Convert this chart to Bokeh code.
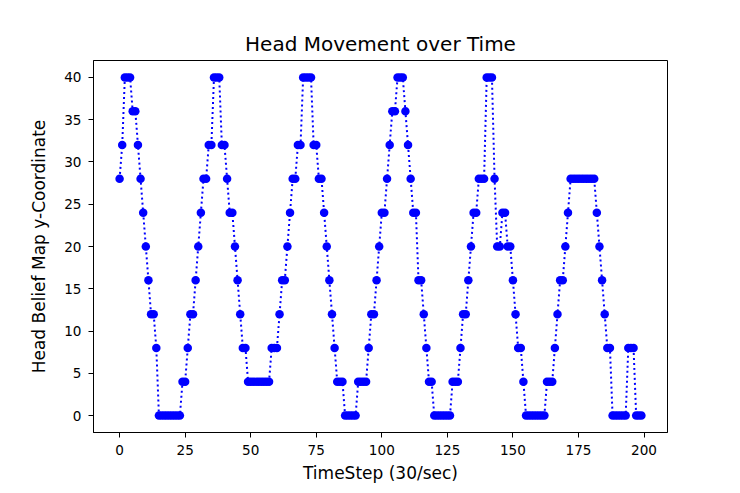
from bokeh.plotting import figure
from bokeh.models import Range1d, FixedTicker
from bokeh.embed import file_html
from bokeh.resources import INLINE

title_text = "Head Movement over Time"
x_label = "TimeStep (30/sec)"
y_label = "Head Belief Map y-Coordinate"

x_ticks = [0, 25, 50, 75, 100, 125, 150, 175, 200]
y_ticks = [0, 5, 10, 15, 20, 25, 30, 35, 40]

head_y = [
    28, 32, 40, 40, 40, 36, 36, 32, 28, 24,
    20, 16, 12, 12, 8, 0, 0, 0, 0, 0,
    0, 0, 0, 0, 4, 4, 8, 12, 12, 16,
    20, 24, 28, 28, 32, 32, 40, 40, 40, 32,
    32, 28, 24, 24, 20, 16, 12, 8, 8, 4,
    4, 4, 4, 4, 4, 4, 4, 4, 8, 8,
    8, 12, 16, 16, 20, 24, 28, 28, 32, 32,
    40, 40, 40, 40, 32, 32, 28, 28, 24, 20,
    16, 12, 8, 4, 4, 4, 0, 0, 0, 0,
    0, 4, 4, 4, 4, 8, 12, 12, 16, 20,
    24, 24, 28, 32, 36, 36, 40, 40, 40, 36,
    32, 28, 24, 24, 16, 16, 12, 8, 4, 4,
    0, 0, 0, 0, 0, 0, 0, 4, 4, 4,
    8, 12, 12, 16, 20, 24, 24, 28, 28, 28,
    40, 40, 40, 28, 20, 20, 24, 24, 20, 20,
    16, 12, 8, 8, 4, 0, 0, 0, 0, 0,
    0, 0, 0, 4, 4, 4, 8, 12, 16, 16,
    20, 24, 28, 28, 28, 28, 28, 28, 28, 28,
    28, 28, 24, 20, 16, 12, 8, 8, 0, 0,
    0, 0, 0, 0, 8, 8, 8, 0, 0, 0,
]
time_step = list(range(len(head_y)))

FONT = "DejaVu Sans"

p = figure(width=738, height=491, output_backend="svg", toolbar_location=None,
           x_range=Range1d(-9.95, 208.95), y_range=Range1d(-2, 42),
           title=title_text)
p.min_border_left = 93
p.min_border_right = 71
p.min_border_top = 60
p.min_border_bottom = 59
p.background_fill_color = "white"
p.border_fill_color = "white"
p.outline_line_color = "black"
p.outline_line_width = 1
p.xgrid.visible = False
p.ygrid.visible = False

p.title.align = "center"
p.title.text_font = FONT
p.title.text_font_style = "normal"
p.title.text_font_size = "20px"
p.title.text_color = "black"
p.title.standoff = 9

for ax, ticks, lab in ((p.xaxis, x_ticks, x_label), (p.yaxis, y_ticks, y_label)):
    ax.ticker = FixedTicker(ticks=ticks)
    ax.axis_label = lab
    ax.axis_label_text_font = FONT
    ax.axis_label_text_font_style = "normal"
    ax.axis_label_text_font_size = "17px"
    ax.axis_label_text_color = "black"
    ax.major_label_text_font = FONT
    ax.major_label_text_font_size = "13.6px"
    ax.major_label_text_color = "black"
    ax.major_tick_in = 0
    ax.major_tick_out = 5
    ax.minor_tick_line_color = None
    ax.axis_line_color = "black"
    ax.major_tick_line_color = "black"

p.xaxis.major_label_standoff = 7
p.xaxis.axis_label_standoff = 5
p.yaxis.major_label_standoff = 7
p.yaxis.axis_label_standoff = 12

p.line(time_step, head_y, line_color="blue", line_width=2, line_dash="2 3")
p.scatter(time_step, head_y, size=8.5, fill_color="blue", line_color="blue", line_width=0)

open("out.html", "w").write(file_html(p, INLINE))
